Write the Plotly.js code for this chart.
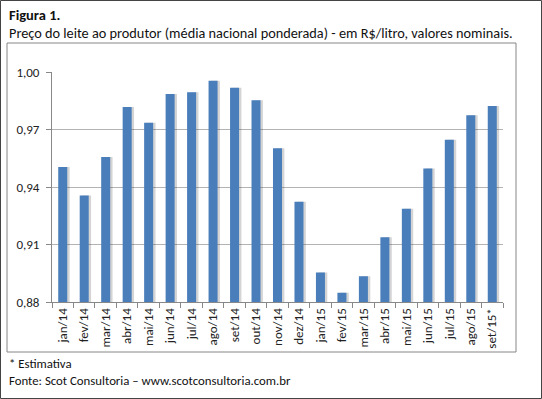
<!DOCTYPE html>
<html>
<head>
<meta charset="utf-8">
<script src="https://cdn.plot.ly/plotly-3.0.1.min.js"></script>
<style>html,body{margin:0;padding:0;background:#fff;}#chart{width:542px;height:399px;}</style>
</head>
<body>
<div id="chart"></div>
<script>
var categories = ["jan/14","fev/14","mar/14","abr/14","mai/14","jun/14","jul/14","ago/14","set/14","out/14","nov/14","dez/14","jan/15","fev/15","mar/15","abr/15","mai/15","jun/15","jul/15","ago/15","set/15*"];
var prices = [0.9504,0.9356,0.9557,0.9818,0.9735,0.9885,0.9895,0.9955,0.9918,0.9853,0.9602,0.9323,0.8954,0.8848,0.8935,0.9138,0.9286,0.9497,0.9647,0.9775,0.9822];
var yTicks = [0.88,0.91,0.94,0.97,1.00];

var FONT = "Carlito, Lato, 'Noto Sans', sans-serif";
var W = 451, H = 230, L = 52, T = 72;
function px(x){return (x-L)/W;}
function py(y){return (T+H-y)/H;}

var shadow = {
  type:'bar', x:categories, y:prices, width:0.42, offset:-0.1,
  marker:{color:'rgba(60,60,60,0.22)', line:{width:0}},
  hoverinfo:'skip', showlegend:false
};
var bars = {
  type:'bar', x:categories, y:prices, width:0.42, offset:-0.21,
  marker:{color:'#4a7ebb', line:{width:0}},
  showlegend:false
};

var layout = {
  width:542, height:399,
  margin:{l:L, r:542-L-W, t:T, b:399-T-H, pad:0},
  paper_bgcolor:'#ffffff', plot_bgcolor:'#ffffff',
  separators:',.',
  font:{family:FONT, color:'#222', size:12},
  barmode:'overlay',
  xaxis:{
    type:'category', tickangle:-90, ticks:'outside', ticklen:5, tickcolor:'#888',
    tickson:'boundaries', showline:true, linecolor:'#888', linewidth:1,
    showgrid:false, tickfont:{family:FONT, size:13, color:'#222'}, fixedrange:true
  },
  yaxis:{
    range:[0.88,1.00], tickvals:yTicks, tickformat:'.2f', ticks:'outside', ticklen:5,
    tickcolor:'#888', showline:true, linecolor:'#888', linewidth:1,
    showgrid:true, gridcolor:'#b3b3b3', gridwidth:1, zeroline:false,
    tickfont:{family:FONT, size:13, color:'#222'}, ticklabelstandoff:4, fixedrange:true
  },
  shapes:[
    {type:'rect', xref:'paper', yref:'paper', x0:px(7), x1:px(516), y0:py(352), y1:py(43), line:{color:'#868686', width:1}, layer:'below'},
    {type:'rect', xref:'paper', yref:'paper', x0:px(0.5), x1:px(541.5), y0:py(398.5), y1:py(0.5), line:{color:'#444', width:1}, layer:'below'}
  ],
  annotations:[
    {xref:'paper', yref:'paper', x:px(7), y:py(15), xanchor:'left', yanchor:'middle', showarrow:false, text:'<b>Figura 1.</b>', font:{family:FONT, size:14.5, color:'#111'}},
    {xref:'paper', yref:'paper', x:px(7), y:py(33), xanchor:'left', yanchor:'middle', showarrow:false, text:'Preço do leite ao produtor (média nacional ponderada) - em R$/litro, valores nominais.', font:{family:FONT, size:14.3, color:'#111'}},
    {xref:'paper', yref:'paper', x:px(7), y:py(363), xanchor:'left', yanchor:'middle', showarrow:false, text:'* Estimativa', font:{family:FONT, size:12.8, color:'#111'}},
    {xref:'paper', yref:'paper', x:px(7), y:py(380), xanchor:'left', yanchor:'middle', showarrow:false, text:'Fonte: Scot Consultoria – www.scotconsultoria.com.br', font:{family:FONT, size:12.8, color:'#111'}}
  ]
};

Plotly.newPlot('chart', [shadow, bars], layout, {staticPlot:true, displayModeBar:false});
</script>
</body>
</html>
